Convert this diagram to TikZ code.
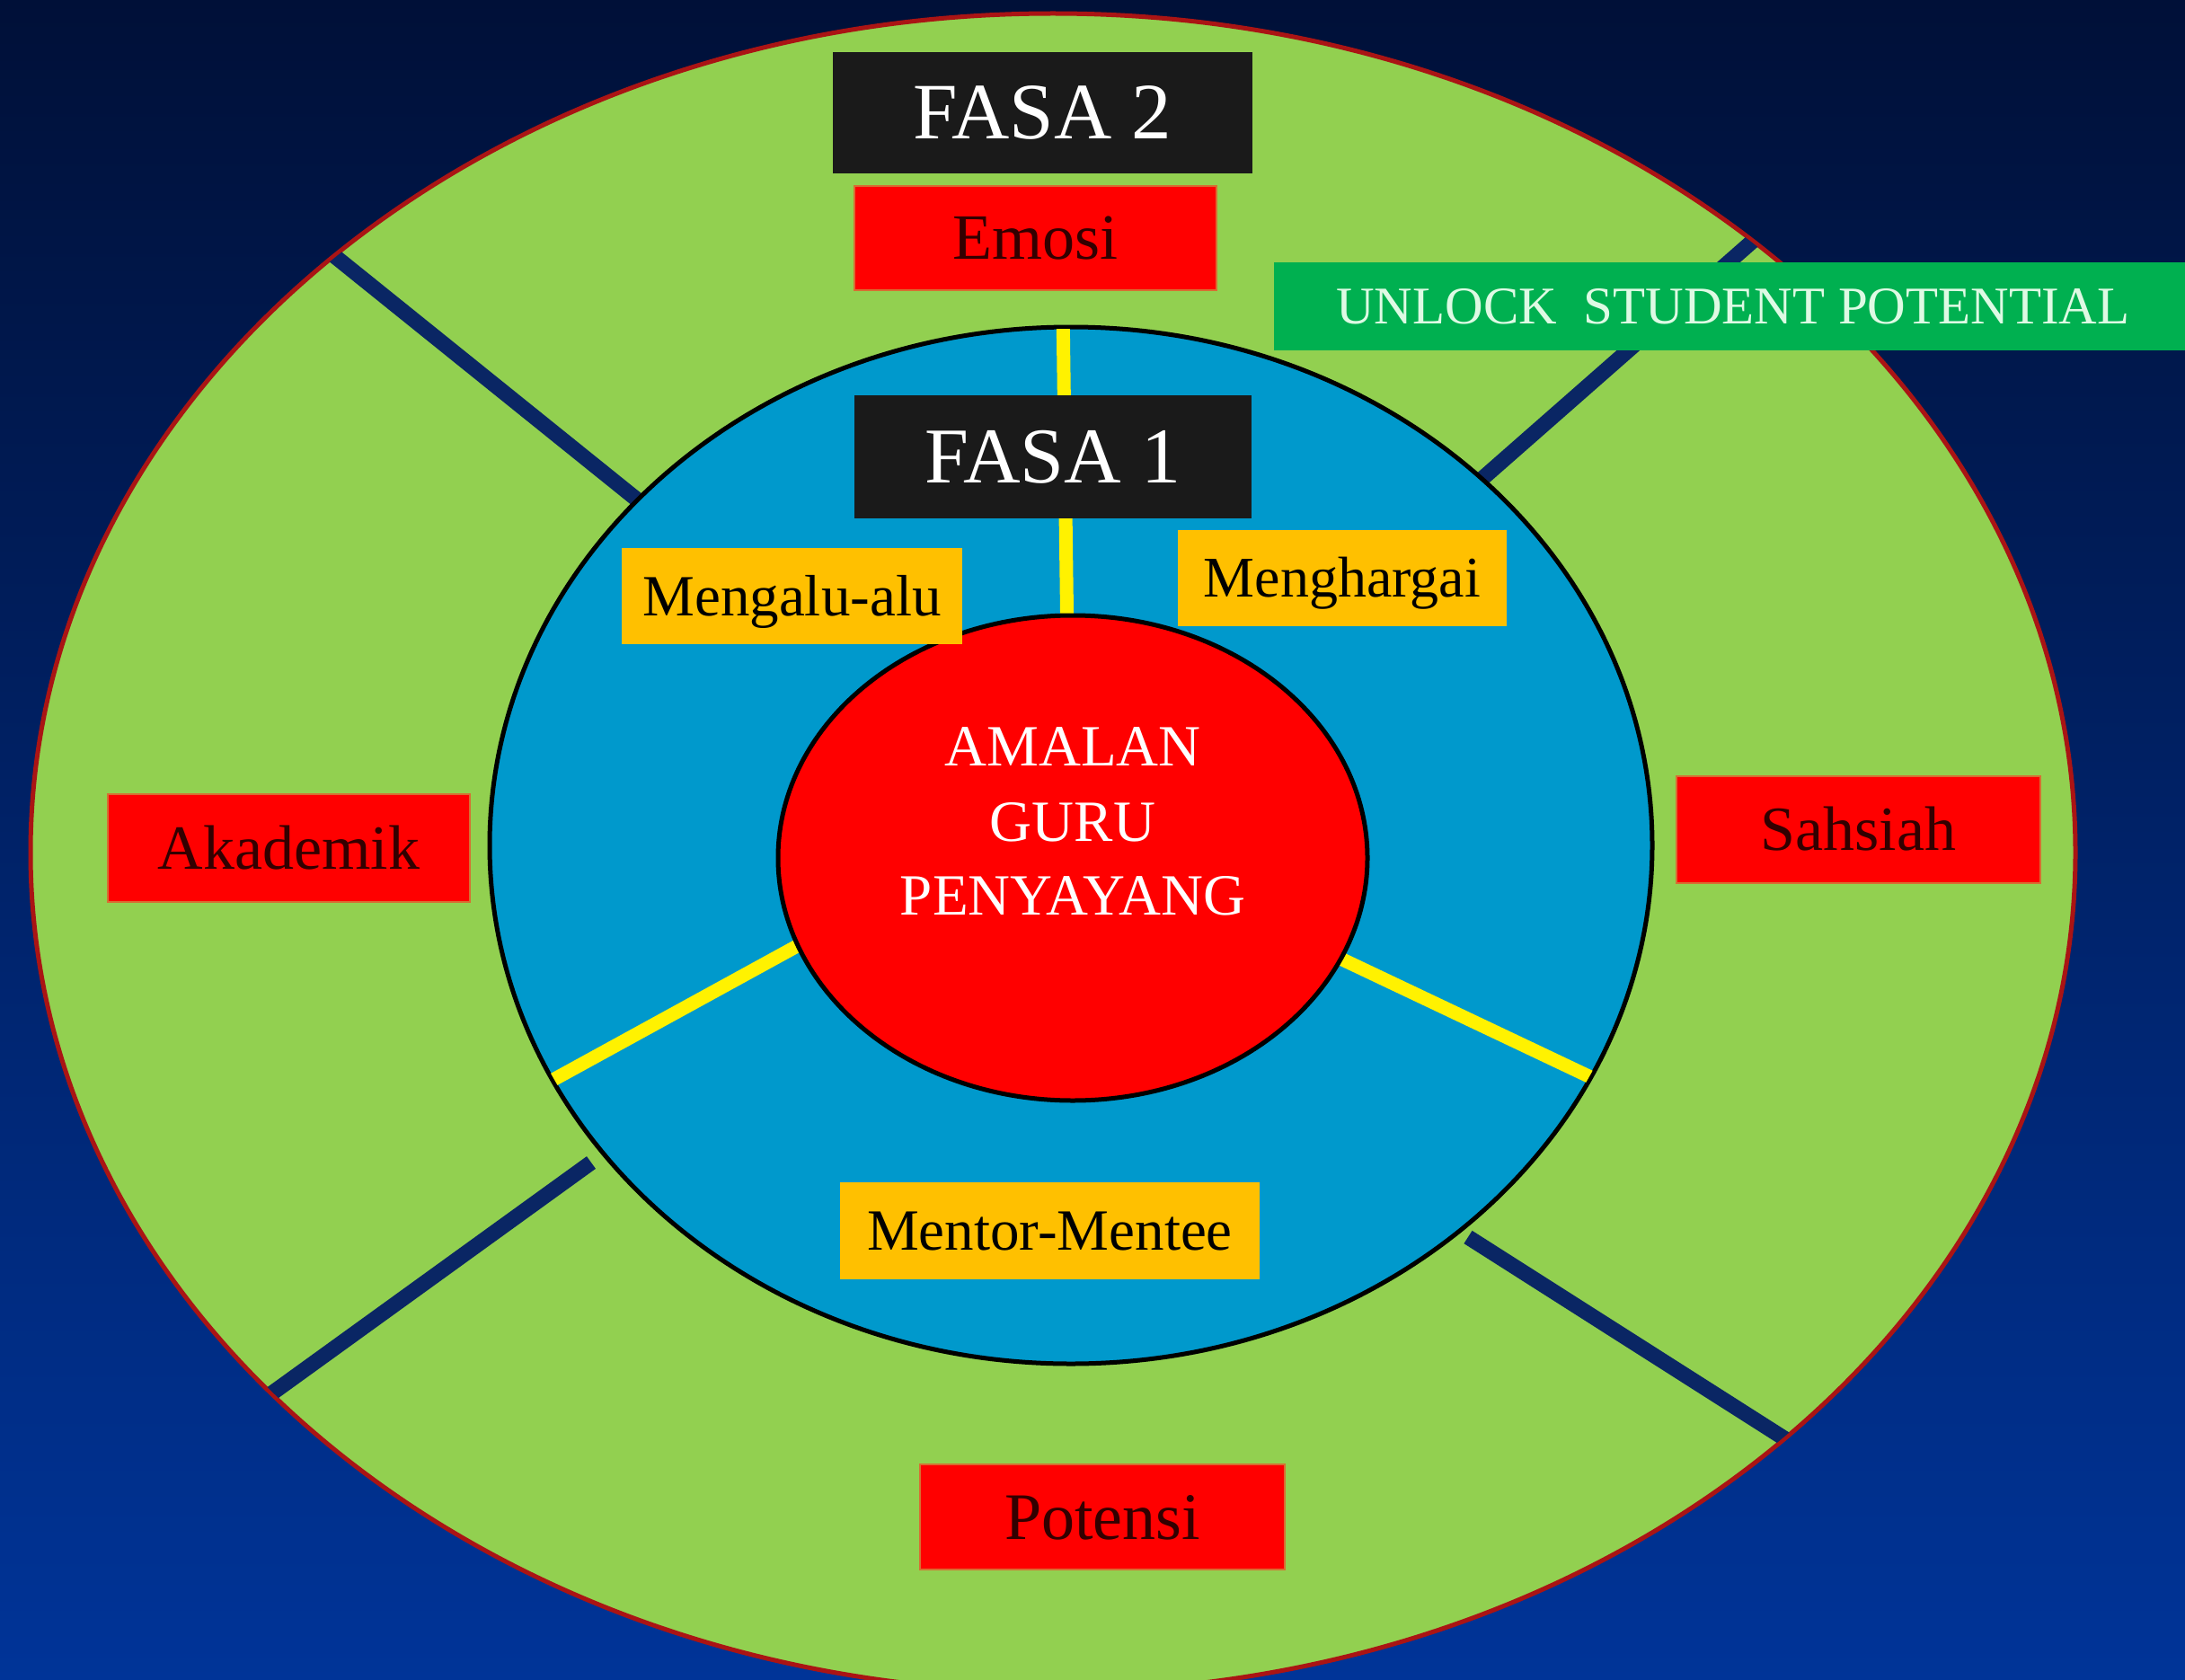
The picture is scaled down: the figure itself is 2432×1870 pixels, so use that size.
\documentclass[tikz,border=0pt]{standalone}
\usepackage{fontspec}
\setmainfont{Liberation Serif}
\definecolor{bgtop}{RGB}{0,16,56}
\definecolor{bgmid}{RGB}{0,38,120}
\definecolor{bgbot}{RGB}{0,52,152}
\definecolor{leaf}{RGB}{146,208,80}
\definecolor{rim}{RGB}{170,20,20}
\definecolor{navy}{RGB}{10,38,100}
\definecolor{sky}{RGB}{0,153,204}
\definecolor{gold}{RGB}{255,192,0}
\definecolor{panel}{RGB}{26,26,26}
\definecolor{unlock}{RGB}{0,176,80}
\definecolor{redtext}{RGB}{50,0,0}
\definecolor{mint}{RGB}{222,250,228}
\definecolor{edge}{RGB}{215,110,50}
\definecolor{core}{RGB}{255,0,0}
\tikzset{
  redbox/.style={rectangle, fill=core, draw=edge, line width=2pt, inner sep=0pt, text=redtext, text depth=0pt},
  goldbox/.style={rectangle, fill=gold, inner sep=0pt, text=black, text depth=0pt},
  blackbox/.style={rectangle, fill=panel, inner sep=0pt, text=white, text depth=0pt},
  greenbox/.style={rectangle, fill=unlock, inner sep=0pt, text=mint, text depth=0pt},
  coretext/.style={inner sep=0pt, text=white, font=\fontsize{65}{78}\selectfont, anchor=base},
  navyline/.style={navy, line width=17pt},
  yellowline/.style={yellow, line width=15pt}
}
\begin{document}
\begin{tikzpicture}[x=1pt,y=-1pt]
\useasboundingbox (0,0) rectangle (2432,1870);
\clip (0,0) rectangle (2432,1870);
\shade[top color=bgtop, middle color=bgmid, bottom color=bgbot] (0,0) rectangle (2432,1870);

% outer ring
\draw[fill=leaf, draw=rim, line width=5pt] (1172,949) ellipse [x radius=1138pt, y radius=934pt];
\begin{scope}
  \clip (1172,949) ellipse [x radius=1136pt, y radius=932pt];
  \draw[navyline] (350,267) -- (720,565);
  \draw[navyline] (1966,255) -- (1645,537);
  \draw[navyline] (290,1560) -- (658,1294);
  \draw[navyline] (1634,1377) -- (2000,1610);
\end{scope}

% middle ring
\draw[fill=sky, draw=black, line width=5pt] (1192,941) ellipse [x radius=647pt, y radius=577pt];
\begin{scope}
  \clip (1192,941) ellipse [x radius=645pt, y radius=575pt];
  \draw[yellowline] (1188,720) -- (1183,340);
  \draw[yellowline] (900,1046) -- (590,1216);
  \draw[yellowline] (1490,1066) -- (1800,1213);
\end{scope}

% core
\draw[fill=core, draw=black, line width=5pt] (1194,955) ellipse [x radius=328pt, y radius=270pt];
\node[coretext] (t1) at (1194,852) {AMALAN};
\node[coretext] (t2) at (1194,936) {GURU};
\node[coretext] (t3) at (1194,1018) {PENYAYANG};

% labels
\node[blackbox, minimum width=467pt, minimum height=135pt, text height=59pt, font=\fontsize{89}{100}\selectfont] (fasa2) at (1160.5,125.5) {FASA 2};
\node[redbox, minimum width=403pt, minimum height=116pt, text height=47.7pt, font=\fontsize{72}{86}\selectfont] (emosi) at (1152.5,265) {Emosi};
\node[greenbox, minimum width=1022pt, minimum height=98pt, text height=39pt, font=\fontsize{59}{70}\selectfont] (unlock) at (1929,341) {UNLOCK\ \ STUDENT POTENTIAL};
\node[blackbox, minimum width=442pt, minimum height=137pt, text height=58.3pt, font=\fontsize{88}{100}\selectfont] (fasa1) at (1172,508.5) {FASA 1};
\node[goldbox, minimum width=379pt, minimum height=107pt, text height=43pt, font=\fontsize{65}{78}\selectfont] (mengalu) at (881.5,663.5) {Mengalu-alu};
\node[goldbox, minimum width=366pt, minimum height=107pt, text height=42.4pt, font=\fontsize{64}{78}\selectfont] (menghargai) at (1494,643.5) {Menghargai};
\node[goldbox, minimum width=467pt, minimum height=108pt, text height=43pt, font=\fontsize{65}{78}\selectfont] (mentor) at (1168.5,1370) {Mentor-Mentee};
\node[redbox, minimum width=403pt, minimum height=120pt, text height=46.3pt, font=\fontsize{70}{84}\selectfont] (akademik) at (321.5,944) {Akademik};
\node[redbox, minimum width=405pt, minimum height=119pt, text height=46.3pt, font=\fontsize{70}{84}\selectfont] (sahsiah) at (2068.5,923.5) {Sahsiah};
\node[redbox, minimum width=406pt, minimum height=117pt, text height=49pt, font=\fontsize{74}{88}\selectfont] (potensi) at (1227,1688.5) {Potensi};
\end{tikzpicture}
\end{document}
